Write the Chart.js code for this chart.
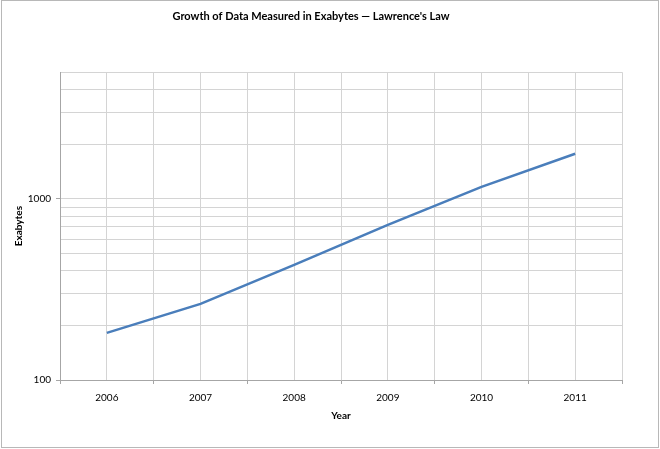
<!DOCTYPE html>
<html>
<head>
<meta charset="utf-8">
<script src="https://cdn.jsdelivr.net/npm/chart.js@4/dist/chart.umd.min.js"></script>
<style>
  html, body { margin: 0; padding: 0; background: #fff; }
  #wrap { width: 660px; height: 449px; position: relative; }
</style>
</head>
<body>
<div id="wrap"><canvas id="chart" width="660" height="449"></canvas></div>
<script>
const years = [2006, 2007, 2008, 2009, 2010, 2011]
const exabytes = [182, 263, 432, 718, 1165, 1773]
const yLabels = [100, 1000]
const yGrid = [100, 200, 300, 400, 500, 600, 700, 800, 900, 1000, 2000, 3000, 4000, 5000]

const fontFamily = "Lato, 'Open Sans', sans-serif"
const gridColor = "#d4d4d4"
const axisColor = "#a6a6a6"

const frame = {
  id: "frame",
  afterDraw(chart) {
    const ctx = chart.ctx
    ctx.save()
    ctx.strokeStyle = "#b8b8b8"
    ctx.lineWidth = 1
    ctx.strokeRect(1.5, 0.5, 657, 447)
    ctx.restore()
  }
}

new Chart(document.getElementById("chart"), {
  type: "line",
  data: {
    datasets: [
      {
        label: "Exabytes",
        data: years.map((year, i) => ({ x: year, y: exabytes[i] })),
        borderColor: "#4a7ebb",
        borderWidth: 2.5,
        pointRadius: 0,
        tension: 0,
        fill: false
      }
    ]
  },
  options: {
    responsive: false,
    animation: false,
    layout: { padding: { top: 0, left: 0, right: 38, bottom: 0 } },
    plugins: {
      legend: { display: false },
      tooltip: { enabled: false },
      title: {
        display: true,
        text: "Growth of Data Measured in Exabytes \u2014 Lawrence's Law",
        color: "#000",
        font: { family: fontFamily, size: 11, weight: "bold" },
        padding: { top: 10, bottom: 49 }
      }
    },
    scales: {
      x: {
        type: "linear",
        min: 2005.5,
        max: 2011.5,
        afterBuildTicks: (scale) => {
          const ticks = []
          for (let v = 2005.5; v <= 2011.5; v += 0.5) ticks.push({ value: v })
          scale.ticks = ticks
        },
        afterFit: (scale) => { scale.height = 69 },
        ticks: {
          autoSkip: false,
          maxRotation: 0,
          padding: 8,
          color: "#000",
          font: { family: fontFamily, size: 10 },
          callback: (value) => (Number.isInteger(value) ? String(value) : "")
        },
        grid: {
          color: gridColor,
          lineWidth: 1,
          tickLength: 4,
          tickColor: (ctx) => (ctx.tick && Number.isInteger(ctx.tick.value) ? "transparent" : axisColor)
        },
        border: { color: axisColor },
        title: {
          display: true,
          text: "Year",
          color: "#000",
          font: { family: fontFamily, size: 10, weight: "bold" },
          padding: { top: 0, bottom: 27 }
        }
      },
      y: {
        type: "logarithmic",
        min: 100,
        max: 5000,
        afterBuildTicks: (scale) => {
          scale.ticks = yGrid.map((v) => ({ value: v, major: yLabels.includes(v) }))
        },
        afterFit: (scale) => { scale.width = 60 },
        ticks: {
          autoSkip: false,
          padding: 5,
          color: "#000",
          font: { family: fontFamily, size: 10 },
          callback: (value) => (yLabels.includes(value) ? String(value) : "")
        },
        grid: {
          color: gridColor,
          lineWidth: 1,
          tickLength: 4,
          tickColor: (ctx) => (ctx.tick && yLabels.includes(ctx.tick.value) ? axisColor : "transparent")
        },
        border: { color: axisColor },
        title: {
          display: true,
          text: "Exabytes",
          color: "#000",
          font: { family: fontFamily, size: 10, weight: "bold" },
          padding: { top: 13, bottom: 0 }
        }
      }
    }
  },
  plugins: [frame]
})
</script>
</body>
</html>
